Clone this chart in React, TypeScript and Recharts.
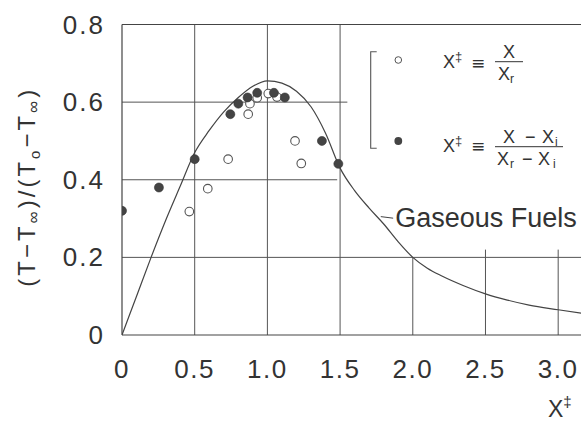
import React from "react";
import { ComposedChart, Line, Scatter, XAxis, YAxis, ReferenceLine, Legend } from "recharts";

// model curve ("Gaseous Fuels")
const curveX = [0, 0.1, 0.2, 0.3, 0.4, 0.5, 0.6, 0.7, 0.8, 0.9, 1.0, 1.1, 1.2, 1.3, 1.4, 1.5, 1.6, 1.7, 1.8, 1.9, 2.0, 2.1, 2.2, 2.35, 2.5, 2.65, 2.8, 3.0, 3.16];
const curveY = [0, 0.1, 0.2, 0.295, 0.383, 0.47, 0.527, 0.575, 0.612, 0.641, 0.655, 0.649, 0.628, 0.588, 0.52, 0.43, 0.372, 0.327, 0.286, 0.24, 0.2, 0.172, 0.152, 0.127, 0.106, 0.09, 0.077, 0.065, 0.056];

// X* = X / Xr (open circles)
const openX = [0.463, 0.59, 0.73, 0.868, 0.88, 0.93, 1.006, 1.066, 1.19, 1.233];
const openY = [0.318, 0.377, 0.453, 0.569, 0.596, 0.611, 0.622, 0.613, 0.5, 0.442];

// X* = (X - Xi) / (Xr - Xi) (filled circles)
const filledX = [0, 0.254, 0.5, 0.745, 0.8, 0.864, 0.93, 1.045, 1.12, 1.375, 1.488];
const filledY = [0.32, 0.38, 0.453, 0.569, 0.596, 0.612, 0.624, 0.624, 0.612, 0.5, 0.441];

const xTicks = [0, 0.5, 1.0, 1.5, 2.0, 2.5, 3.0];
const yTicks = [0, 0.2, 0.4, 0.6, 0.8];
const X_MAX = 3.157;

const curve = curveX.map((x, i) => ({ x, y: curveY[i] }));
const openPts = openX.map((x, i) => ({ x, y: openY[i] }));
const filledPts = filledX.map((x, i) => ({ x, y: filledY[i] }));

const FONT = '"Liberation Sans", Arial, sans-serif';
const INK = "#333";
const GRID = "#555";

const fmt = (v: number) => (v === 0 ? "0" : v.toFixed(1));

const XTick = (props: any) => {
  const { x, y, payload } = props;
  return (
    <text x={x} y={y + 43} textAnchor="middle" fontSize={26} letterSpacing={1.5} fill={INK} fontFamily={FONT}>
      {fmt(payload.value)}
    </text>
  );
};

const YTick = (props: any) => {
  const { x, y, payload } = props;
  return (
    <text x={x - 17} y={y + 9} textAnchor="end" fontSize={26} letterSpacing={2} fill={INK} fontFamily={FONT}>
      {fmt(payload.value)}
    </text>
  );
};

const OpenDot = (props: any) => (
  <circle cx={props.cx} cy={props.cy} r={4.3} fill="#fff" stroke="#555" strokeWidth={1.1} />
);
const FilledDot = (props: any) => (
  <circle cx={props.cx} cy={props.cy} r={4.5} fill="#444" stroke="#333" strokeWidth={0.6} />
);

const YTitle = (props: any) => {
  const vb = props.viewBox || { x: 0, y: 24.5, width: 122, height: 310.5 };
  const cx = 35;
  const cy = vb.y + vb.height / 2 + 7;
  return (
    <text
      x={cx}
      y={cy}
      transform={`rotate(-90, ${cx}, ${cy})`}
      textAnchor="middle"
      fontSize={24}
      letterSpacing={3}
      fill={INK}
      fontFamily={FONT}
    >
      (T−T<tspan fontSize={17} dy={4}>∞</tspan>
      <tspan dy={-4}>)/(T</tspan>
      <tspan fontSize={15} dy={5}>o</tspan>
      <tspan dy={-5}>−T</tspan>
      <tspan fontSize={17} dy={4}>∞</tspan>
      <tspan dy={-4}>)</tspan>
    </text>
  );
};

const XTitle = (props: any) => {
  const vb = props.viewBox || { x: 122, y: 335, width: 459, height: 88 };
  return (
    <text x={vb.x + vb.width - 33} y={vb.y + 82} fontSize={23} fill={INK} fontFamily={FONT}>
      X<tspan fontSize={15} dy={-10}>‡</tspan>
    </text>
  );
};

// legend pieces are placed in the legend box's own coordinates
const LegendBox = () => {
  const t = { fill: INK, fontFamily: FONT, fontSize: 18 } as const;
  const sub = { fontFamily: FONT, fill: INK, fontSize: 12 } as const;
  const eq = { fill: INK, fontFamily: '"DejaVu Sans", sans-serif', fontSize: 17 } as const;
  return (
    <svg width={220} height={130} style={{ display: "block" }}>
      <path d="M 16.7 11.7 H 10.7 V 108.3 H 16.7" fill="none" stroke="#555" strokeWidth={1.1} />
      <circle cx={38.3} cy={20} r={3.3} fill="#fff" stroke="#555" strokeWidth={1} />
      <circle cx={38.3} cy={101} r={3.9} fill="#444" />

      {/* X* = X / Xr */}
      <text x={83} y={28.3} {...t}>X</text>
      <text x={95} y={21} {...sub} fontSize={13}>‡</text>
      <text x={111} y={28.5} {...eq}>≡</text>
      <text x={143} y={18.3} {...t}>X</text>
      <line x1={135} y1={21.7} x2={163} y2={21.7} stroke={INK} strokeWidth={1} />
      <text x={138} y={40} {...t}>X</text>
      <text x={150} y={43} {...sub}>r</text>

      {/* X* = (X - Xi) / (Xr - Xi) */}
      <text x={83} y={111.7} {...t}>X</text>
      <text x={95} y={104.5} {...sub} fontSize={13}>‡</text>
      <text x={111} y={112} {...eq}>≡</text>
      <text x={143} y={103.3} {...t}>X</text>
      <text x={165} y={103.3} {...t}>−</text>
      <text x={182} y={103.3} {...t}>X</text>
      <text x={195} y={106.3} {...sub}>i</text>
      <line x1={135} y1={106.7} x2={203} y2={106.7} stroke={INK} strokeWidth={1} />
      <text x={137} y={125} {...t}>X</text>
      <text x={150} y={128} {...sub}>r</text>
      <text x={162} y={125} {...t}>−</text>
      <text x={178} y={125} {...t}>X</text>
      <text x={193} y={128} {...sub}>i</text>
    </svg>
  );
};

const gridLine = { stroke: GRID, strokeWidth: 1, ifOverflow: "visible" as const };

export default function App() {
  return (
    <div style={{ width: 581, height: 423, overflow: "hidden", background: "#fff" }}>
      <style>{`body{margin:0;background:#fff}`}</style>
      <ComposedChart width={581} height={423} margin={{ top: 24.5, right: 0, bottom: 0, left: 0 }}>
        <XAxis
          type="number"
          dataKey="x"
          domain={[0, X_MAX]}
          ticks={xTicks}
          allowDataOverflow
          height={88}
          tickLine={false}
          tickSize={0}
          tickMargin={0}
          axisLine={{ stroke: "#444", strokeWidth: 1.2 }}
          tick={<XTick />}
          label={{ content: <XTitle /> }}
        />
        <YAxis
          type="number"
          dataKey="y"
          domain={[0, 0.8]}
          ticks={yTicks}
          width={122}
          tickLine={false}
          tickSize={0}
          tickMargin={0}
          axisLine={{ stroke: "#444", strokeWidth: 1.2 }}
          tick={<YTick />}
          label={{ content: <YTitle /> }}
        />

        {/* grid: the upper right is left blank for the legend and label */}
        <ReferenceLine segment={[{ x: 0.5, y: 0 }, { x: 0.5, y: 0.8 }]} {...gridLine} />
        <ReferenceLine segment={[{ x: 1.0, y: 0 }, { x: 1.0, y: 0.8 }]} {...gridLine} />
        <ReferenceLine segment={[{ x: 1.5, y: 0 }, { x: 1.5, y: 0.8 }]} {...gridLine} />
        <ReferenceLine segment={[{ x: 2.0, y: 0 }, { x: 2.0, y: 0.2 }]} {...gridLine} />
        <ReferenceLine segment={[{ x: 2.5, y: 0 }, { x: 2.5, y: 0.22 }]} {...gridLine} />
        <ReferenceLine segment={[{ x: 3.0, y: 0 }, { x: 3.0, y: 0.22 }]} {...gridLine} />
        <ReferenceLine segment={[{ x: 0, y: 0.2 }, { x: X_MAX, y: 0.2 }]} {...gridLine} />
        <ReferenceLine segment={[{ x: 0, y: 0.4 }, { x: 1.48, y: 0.4 }]} {...gridLine} />
        <ReferenceLine segment={[{ x: 0, y: 0.6 }, { x: 1.55, y: 0.6 }]} {...gridLine} />
        <ReferenceLine segment={[{ x: 0, y: 0.8 }, { x: X_MAX, y: 0.8 }]} stroke="#444" strokeWidth={1.2} ifOverflow="visible" />

        <Line
          data={curve}
          dataKey="y"
          type="monotone"
          stroke="#444"
          strokeWidth={1.2}
          dot={false}
          activeDot={false}
          legendType="none"
          isAnimationActive={false}
        />
        <ReferenceLine
          segment={[{ x: 1.78, y: 0.305 }, { x: 1.865, y: 0.301 }]}
          stroke="#444"
          strokeWidth={1}
          ifOverflow="visible"
          label={{ value: "Gaseous Fuels", position: "right", offset: 2, fontSize: 27, fill: INK, fontFamily: FONT }}
        />
        <Scatter data={openPts} dataKey="y" shape={<OpenDot />} legendType="none" isAnimationActive={false} />
        <Scatter data={filledPts} dataKey="y" shape={<FilledDot />} legendType="none" isAnimationActive={false} />

        <Legend
          layout="vertical"
          verticalAlign="middle"
          align="center"
          content={<LegendBox />}
          wrapperStyle={{ position: "absolute", left: 360, top: 40, width: 220, height: 130 }}
        />
      </ComposedChart>
    </div>
  );
}
